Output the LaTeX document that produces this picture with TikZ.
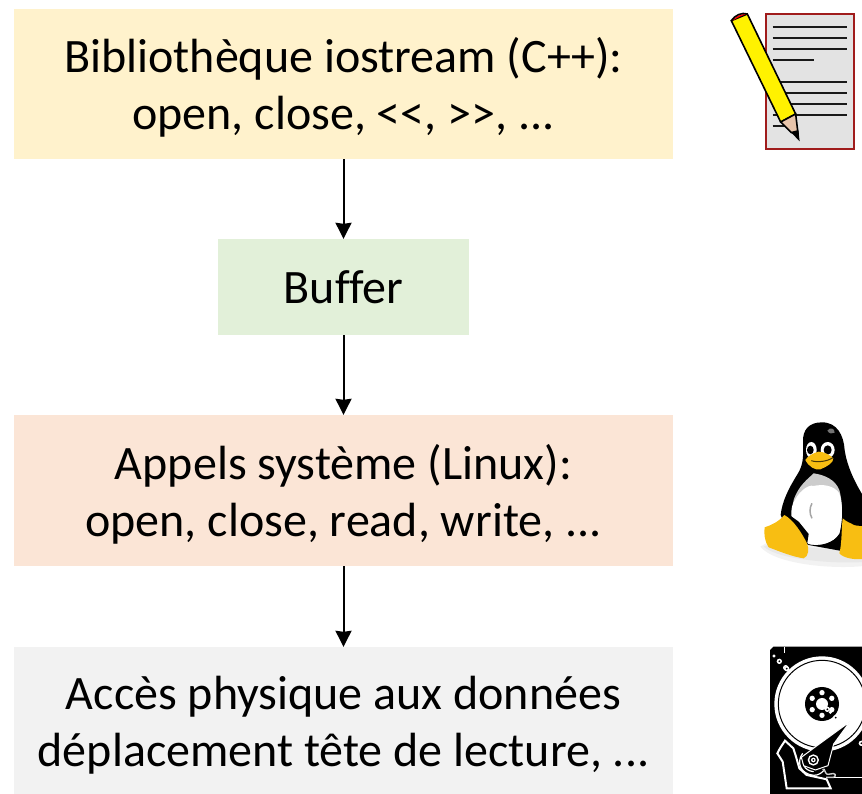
\documentclass[tikz,border=0pt]{standalone}
\usepackage{fontspec}
\setmainfont{Carlito}[Ligatures=NoCommon]
\usetikzlibrary{arrows.meta}
\definecolor{boxa}{HTML}{FFF2CC}
\definecolor{boxb}{HTML}{E2F0D9}
\definecolor{boxc}{HTML}{FBE5D6}
\definecolor{boxd}{HTML}{F2F2F2}
\definecolor{docred}{HTML}{A01C1C}
\definecolor{docgray}{HTML}{E3E3E3}
\definecolor{tuxy}{HTML}{F8BE12}
\definecolor{woodc}{HTML}{E8C4AA}
\newcommand\lowr{\rule{0pt}{42pt}}
\tikzset{
  wide/.style={minimum width=659pt,inner sep=0pt,align=center,font=\fontsize{48}{57}\selectfont},
  narrow/.style={minimum width=251pt,inner sep=0pt,align=center,font=\fontsize{48}{57}\selectfont},
  flow/.style={draw=black,line width=2pt,-{Stealth[length=16pt,width=16pt,inset=1pt]}},
  textline/.style={line width=2.6pt,black!90},
}
\begin{document}
\begin{tikzpicture}[x=1pt,y=-1pt]
\useasboundingbox (0,0) rectangle (862,794);
\clip (0,0) rectangle (862,794);
\node[wide,fill=boxa,minimum height=150pt] (lib) at (343.5,84) {\lowr Bibliothèque iostream (C++):\\open, close, <{}<, >{}>, .{}.{}.};
\node[narrow,fill=boxb,minimum height=96pt] (buf) at (343.5,287) {Buffer};
\node[wide,fill=boxc,minimum height=151pt] (sys) at (343.5,490.5) {\lowr Appels système (Linux):\\open, close, read, write, .{}.{}.};
\node[wide,fill=boxd,minimum height=147pt] (phy) at (343.5,720.5) {\lowr Accès physique aux données\\déplacement tête de lecture, .{}.{}.};
\draw[flow] (lib) -- (buf);
\draw[flow] (buf) -- (sys);
\draw[flow] (sys) -- (phy);
% document and pencil
\begin{scope}[shift={(722,0)},x=0.3333pt,y=-0.3333pt]
\draw[docred,line width=2.2pt,fill=docgray] (131,43) rectangle (396,448);
\foreach \yy/\xa/\xb in {81/152/375,114/152/375,147/152/375,180/152/277,246/170/375,279/170/375,312/190/375,345/152/375,378/152/190}
  \draw[textline] (\xa,\yy) -- (\xb,\yy);
\draw[black,line width=1.6pt,fill=yellow] (28,62) -- (76,42) -- (221,342) -- (176,366) -- cycle;
\fill[red] (30,63) .. controls (40,48) and (60,40) .. (76,42) .. controls (60,46) and (45,54) .. (30,63) -- cycle;
\draw[black,line width=1.6pt] (28,62) .. controls (38,46) and (60,36) .. (76,42);
\draw[black,line width=1.6pt,fill=woodc] (176,366) -- (221,342) -- (228,400) -- (208,398) -- cycle;
\fill[black] (206,396) -- (229,390) -- (233,424) -- cycle;
\end{scope}
% penguin
\begin{scope}[shift={(752,410)},x=0.3333pt,y=-0.3333pt]
\fill[black!5] (25,410) .. controls (70,465) and (250,478) .. (335,468) -- (335,420) -- (60,390) -- cycle;
\fill[black!9] (35,410) .. controls (80,450) and (250,462) .. (335,456) -- (335,430) -- (60,400) -- cycle;
\fill[black] (210,37) .. controls (170,37) and (152,60) .. (153,95)
  .. controls (153,130) and (158,160) .. (135,195)
  .. controls (110,235) and (90,275) .. (86,315)
  .. controls (100,350) and (120,380) .. (170,405)
  -- (280,425) -- (335,340) -- (335,260)
  .. controls (310,220) and (285,170) .. (278,120)
  .. controls (275,75) and (255,37) .. (210,37) -- cycle;
\fill[black!55] (226,62) .. controls (235,50) and (248,55) .. (248,68) .. controls (240,72) and (232,72) .. (226,62) -- cycle;
\fill[black!20] (125,270) .. controls (140,225) and (170,205) .. (185,190)
  .. controls (220,195) and (250,210) .. (262,240)
  .. controls (275,290) and (270,340) .. (262,370)
  .. controls (245,400) and (200,410) .. (170,402)
  .. controls (140,380) and (110,330) .. (125,270) -- cycle;
\fill[white] (120,290) .. controls (135,245) and (170,222) .. (185,228)
  .. controls (210,222) and (245,225) .. (262,250)
  .. controls (275,290) and (270,340) .. (262,370)
  .. controls (245,400) and (200,410) .. (170,402)
  .. controls (140,380) and (110,340) .. (120,290) -- cycle;
\fill[black] (105,310) -- (140,335) -- (170,372) -- (165,405) -- (120,370) -- cycle;
\draw[black!35,line width=1.5pt] (180,280) .. controls (172,295) and (172,310) .. (180,325);
\fill[white] (178,120) ellipse [x radius=16,y radius=24];
\fill[white] (227,120) ellipse [x radius=21,y radius=24];
\fill[black] (175,120) ellipse [x radius=10,y radius=13];
\fill[black] (227,120) ellipse [x radius=12,y radius=14];
\fill[tuxy] (200,125) .. controls (185,128) and (165,140) .. (160,150)
  .. controls (170,170) and (190,182) .. (205,178)
  .. controls (225,170) and (245,158) .. (244,145)
  .. controls (235,135) and (215,125) .. (200,125) -- cycle;
\draw[black!70!tuxy,line width=1pt] (178,152) .. controls (195,158) and (225,155) .. (243,143);
\fill[tuxy] (97,315) .. controls (80,335) and (60,345) .. (38,352)
  .. controls (35,370) and (38,395) .. (50,412)
  .. controls (85,425) and (120,440) .. (155,445)
  .. controls (170,440) and (172,415) .. (165,400)
  .. controls (150,370) and (125,330) .. (97,315) -- cycle;
\fill[tuxy] (272,325) .. controls (268,360) and (270,400) .. (262,430)
  .. controls (275,445) and (310,450) .. (335,447) -- (335,345)
  .. controls (315,345) and (295,345) .. (272,325) -- cycle;
\fill[black] (295,325) .. controls (290,340) and (305,350) .. (335,347) -- (335,315) -- (300,315) -- cycle;
\end{scope}
% hard disk
\begin{scope}[shift={(752,634)},x=0.3333pt,y=-0.3333pt]
\fill[black] (64,38) -- (335,38) -- (335,483) -- (54,483) -- (54,48) -- cycle;
\fill[white] (210,210) circle (143);
\draw[black,line width=1pt] (210,210) circle (131);
\fill[white] (96,38) rectangle (99,56);
\foreach \px/\py in {66,66, 66,294, 66,476} \fill[white] (\px,\py) circle (4);
\fill[black] (210,210) circle (51);
\fill[white] (210,210) circle (18);
\foreach \ang in {30,90,150,210,270,330}
  \fill[white] (210,210) ++(\ang:34) circle (8);
% right wedge
\fill[black] (295,335) .. controls (305,330) and (320,315) .. (335,310) -- (335,375) .. controls (320,368) and (305,352) .. (295,335) -- cycle;
% base plate
\draw[white,line width=2pt,fill=black] (84,343) -- (99,320) -- (124,343) -- (132,368) -- (142,403) -- (164,423) -- (224,436) -- (236,463) -- (104,463) -- (92,383) -- (76,358) -- cycle;
% pivot arcs
\draw[white,line width=1.2pt] (152,358) .. controls (132,385) and (145,420) .. (185,424) .. controls (200,424) and (212,416) .. (218,405);
\draw[white,line width=1.2pt] (158,362) .. controls (146,385) and (155,410) .. (185,413);
% arm
\draw[white,line width=1pt,fill=black] (294,263) -- (245,330) -- (228,395) -- (190,408) -- (155,395) -- (148,370) -- (195,335) -- cycle;
\fill[white] (184,378) circle (17);
\fill[black] (184,378) circle (12);
\fill[white] (184,378) circle (7);
\fill[black] (184,378) circle (3);
\foreach \px/\py in {235,328, 219,348, 219,378, 212,358}
  \fill[white] (\px,\py) circle (5);
\foreach \px/\py in {101,328, 82,350, 104,456, 226,461, 251,458}
  {\fill[white] (\px,\py) circle (8); \fill[black] (\px,\py) circle (3);}
\draw[black!20,line width=1.4pt] (212,405) .. controls (225,410) and (215,425) .. (235,420) .. controls (250,415) and (255,425) .. (245,430) -- (222,430);
\draw[white,line width=1.6pt] (245,430) -- (335,430);
\end{scope}
\end{tikzpicture}
\end{document}
